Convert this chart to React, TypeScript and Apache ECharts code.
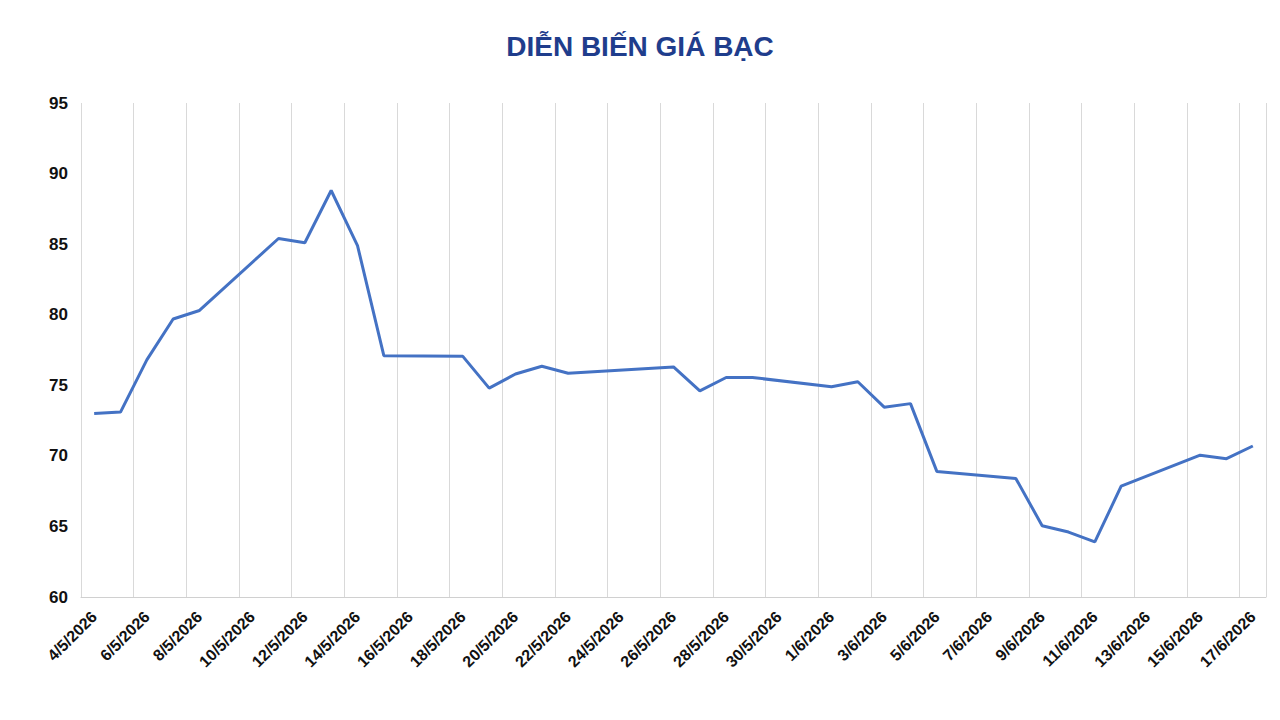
import React, { useEffect, useRef } from 'react';
import * as echarts from 'echarts';

// one slot per calendar day, weekends / holidays left empty
const dates = [
  '4/5/2026', '5/5/2026', '6/5/2026', '7/5/2026', '8/5/2026', '9/5/2026', '10/5/2026',
  '11/5/2026', '12/5/2026', '13/5/2026', '14/5/2026', '15/5/2026', '16/5/2026', '17/5/2026',
  '18/5/2026', '19/5/2026', '20/5/2026', '21/5/2026', '22/5/2026', '23/5/2026', '24/5/2026',
  '25/5/2026', '26/5/2026', '27/5/2026', '28/5/2026', '29/5/2026', '30/5/2026', '31/5/2026',
  '1/6/2026', '2/6/2026', '3/6/2026', '4/6/2026', '5/6/2026', '6/6/2026', '7/6/2026',
  '8/6/2026', '9/6/2026', '10/6/2026', '11/6/2026', '12/6/2026', '13/6/2026', '14/6/2026',
  '15/6/2026', '16/6/2026', '17/6/2026',
];

const silverPrice = [
  73.0, 73.1, 76.8, 79.7, 80.3, null, null,
  85.4, 85.1, 88.8, 84.9, 77.1, null, null,
  77.05, 74.8, 75.8, 76.35, 75.85, null, null,
  null, 76.3, 74.6, 75.55, 75.55, null, null,
  74.9, 75.25, 73.45, 73.7, 68.9, null, null,
  68.4, 65.05, 64.6, 63.9, 67.85, null, null,
  70.05, 69.8, 70.7,
];

const App: React.FC = () => {
  const chartRef = useRef<HTMLDivElement>(null);

  useEffect(() => {
    if (!chartRef.current) return;
    const chart = echarts.init(chartRef.current, undefined, { renderer: 'svg' });

    const option: echarts.EChartsOption = {
      animation: false,
      backgroundColor: '#ffffff',
      title: {
        text: 'DIỄN BIẾN GIÁ BẠC',
        left: 'center',
        top: 27,
        textStyle: {
          fontFamily: 'Arial, Liberation Sans, sans-serif',
          fontSize: 28,
          fontWeight: 'bold',
          color: '#1f3d8c',
        },
      },
      grid: { left: 81, right: 14, top: 103, bottom: 123 },
      xAxis: {
        type: 'category',
        data: dates,
        boundaryGap: true,
        axisLine: { lineStyle: { color: '#d0d0d0', width: 1 } },
        axisTick: { show: false, interval: 1 },
        splitLine: { show: true, interval: 1, lineStyle: { color: '#d9d9d9', width: 1 } },
        axisLabel: {
          interval: 1,
          rotate: 45,
          margin: 17,
          fontFamily: 'Arial, Liberation Sans, sans-serif',
          fontSize: 16,
          fontWeight: 'bold',
          color: '#111111',
        },
      },
      yAxis: {
        type: 'value',
        min: 60,
        max: 95,
        interval: 5,
        axisLine: { show: false },
        axisTick: { show: false },
        splitLine: { show: false },
        axisLabel: {
          margin: 13,
          fontFamily: 'Arial, Liberation Sans, sans-serif',
          fontSize: 17,
          fontWeight: 'bold',
          color: '#111111',
        },
      },
      series: [
        {
          name: 'Giá bạc',
          type: 'line',
          data: silverPrice,
          connectNulls: true,
          showSymbol: false,
          lineStyle: { color: '#4472c4', width: 3 },
        },
      ],
    };

    chart.setOption(option);
    return () => chart.dispose();
  }, []);

  return (
    <div
      ref={chartRef}
      style={{ position: 'fixed', left: 0, top: 0, width: 1280, height: 720 }}
    />
  );
};

export default App;
